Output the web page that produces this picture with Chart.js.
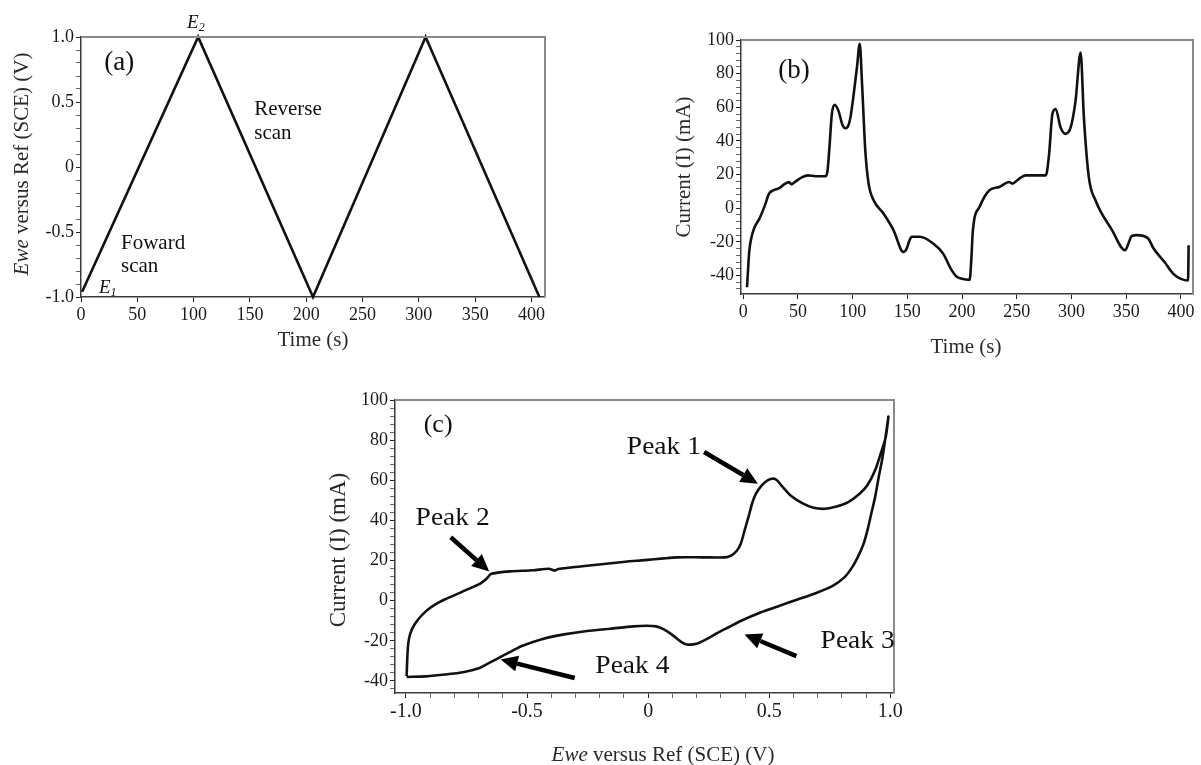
<!DOCTYPE html>
<html><head><meta charset="utf-8">
<script src="https://cdn.jsdelivr.net/npm/chart.js@4/dist/chart.umd.min.js"></script>
<style>
html,body{margin:0;padding:0;background:#fff;width:1201px;height:765px;overflow:hidden;}
canvas{position:absolute;}
</style></head><body>
<canvas id="ca" width="620" height="370" style="left:0;top:0"></canvas>
<canvas id="cb" width="581" height="370" style="left:620px;top:0"></canvas>
<canvas id="cc" width="660" height="395" style="left:300px;top:370px"></canvas>
<script>
// ---------- DATA ----------
// (a) potential vs time
const aTime    = [1, 104, 206, 306, 407];
const aVoltage = [-0.96, 1.0, -1.0, 1.0, -1.0];
const aXTicks  = [0, 50, 100, 150, 200, 250, 300, 350, 400];
const aXLabels = ['0','50','100','150','200','250','300','350','400'];
const aYTicks  = [-1, -0.5, 0, 0.5, 1];
const aYLabels = ['-1.0','-0.5','0','0.5','1.0'];

// (b) current vs time
const bTime = [3.5,4.5,5.5,7,10,15,20,23.5,27,33,38,42,44,47,54,59,66,75,77,79,81,83.5,87,91,93.5,96,98,101,104,106.5,108.6,111.6,114.6,119.2,128.2,137.3,146.4,149.4,152,154,161.5,173.6,182.7,190.3,194.8,200,206.9,208.4,209.9,216,225,234,243,246,252,258,276.5,279.5,282.5,285.5,290,294.6,299.2,303.7,308.3,311.3,315.8,321.9,337,349,352,355,360,370,375,385,393,400,406.5,407];
const bCurrent = [-47,-36,-26,-19,-12,-6,2,8.5,10.5,12,14.5,15.5,14.3,15.5,18.5,19.5,19,19,22,38,56,61.5,58,49,47.5,49,54,68,84,97.8,74,34,14.6,4.7,-3.2,-13,-26,-24,-19,-17,-17,-21,-27,-36.7,-40.6,-42,-42.6,-31,-13,0.8,10.7,12.6,15.6,14.6,17.5,19.5,19.5,32,56,59,48,44.2,48,64,92.5,54,18.5,4.7,-13,-25,-21,-16.5,-16,-18,-24,-32,-39,-42,-43,-22];
const bXTicks  = [0, 50, 100, 150, 200, 250, 300, 350, 400];
const bXLabels = ['0','50','100','150','200','250','300','350','400'];
const bYTicks  = [-40, -20, 0, 20, 40, 60, 80, 100];
const bYLabels = ['-40','-20','0','20','40','60','80','100'];

// (c) cyclic voltammogram (forward scan then reverse scan)
const cVoltage = [-0.997,-0.994,-0.990,-0.981,-0.965,-0.940,-0.910,-0.873,-0.838,-0.777,-0.727,-0.690,-0.665,-0.650,-0.620,-0.569,-0.474,-0.410,-0.385,-0.371,-0.252,-0.094,-0.014,0.065,0.120,0.223,0.319,0.342,0.366,0.382,0.398,0.414,0.429,0.445,0.469,0.493,0.517,0.532,0.556,0.588,0.636,0.683,0.731,0.778,0.826,0.873,0.905,0.937,0.960,0.981,0.992,
  0.984,0.968,0.952,0.937,0.921,0.905,0.889,0.865,0.842,0.810,0.762,0.699,0.620,0.540,0.461,0.382,0.334,0.287,0.239,0.200,0.160,0.136,0.097,0.065,0.033,-0.006,-0.062,-0.157,-0.252,-0.347,-0.442,-0.521,-0.585,-0.616,-0.664,-0.696,-0.759,-0.838,-0.918,-0.997];
const cCurrent = [-37.5,-28,-21,-16,-12,-8,-4.5,-1.5,0.7,3.9,6.6,8.8,11.2,13.2,14.0,14.6,15.2,15.9,15.0,15.8,17.4,19.4,20.2,21.1,21.6,21.6,21.6,22.4,24.9,28.2,34.9,41.6,48.3,53.3,57.5,60.0,60.8,60.0,56.6,52.4,48.6,46.3,45.8,46.9,49.1,53.3,57.5,65.0,73.3,81.6,91.7,
  85.0,71.6,61.6,51.6,43.3,34.9,28.2,21.6,16.6,11.6,7.4,4.1,0.7,-2.6,-6.0,-10.1,-13.1,-16.0,-19.3,-21.5,-21.8,-20.5,-16.8,-14.3,-12.8,-12.5,-12.8,-14.0,-15.1,-16.8,-19.3,-22.6,-26.5,-28.5,-31.5,-33.5,-35.5,-36.8,-37.7,-38.0];
const cXTicks  = [-1, -0.5, 0, 0.5, 1];
const cXLabels = ['-1.0','-0.5','0','0.5','1.0'];
const cYTicks  = [-40, -20, 0, 20, 40, 60, 80, 100];
const cYLabels = ['-40','-20','0','20','40','60','80','100'];

// annotations (data coordinates)
const aNotes = [
  {x:34, y:0.80, segs:[{t:'(a)'}], size:27},
  {x:102, y:1.11, segs:[{t:'E',i:1},{t:'2',i:1,sub:1}], size:19},
  {x:23.7, y:-0.93, segs:[{t:'E',i:1},{t:'1',i:1,sub:1}], size:19},
  {x:153.8, y:0.44, segs:[{t:'Reverse'}], size:21, align:'left'},
  {x:153.8, y:0.256, segs:[{t:'scan'}], size:21, align:'left'},
  {x:35.5, y:-0.585, segs:[{t:'Foward'}], size:21, align:'left'},
  {x:35.5, y:-0.767, segs:[{t:'scan'}], size:21, align:'left'}
];
const bNotes = [ {x:46.5, y:81.7, segs:[{t:'(b)'}], size:27} ];
const cNotes = [
  {x:-0.867, y:87.5, segs:[{t:'(c)'}], size:26},
  {x:0.065, y:76.6, segs:[{t:'Peak 1'}], size:25, hs:1.1},
  {x:-0.807, y:40.8, segs:[{t:'Peak 2'}], size:25, hs:1.1},
  {x:0.865, y:-20.1, segs:[{t:'Peak 3'}], size:25, hs:1.1},
  {x:-0.065, y:-32.7, segs:[{t:'Peak 4'}], size:25, hs:1.1}
];
const cArrows = [
  {x1:0.231, y1:74.1, x2:0.453, y2:58.3},
  {x1:-0.815, y1:31.6, x2:-0.656, y2:14.6},
  {x1:0.612, y1:-27.6, x2:0.398, y2:-16.8},
  {x1:-0.303, y1:-38.5, x2:-0.609, y2:-29.3}
];

// ---------- RENDERING ----------
const FONT = '"Liberation Serif", "Times New Roman", serif';

function range(a, b, step, dec) {
  const out = []; const n = Math.round((b - a) / step);
  for (let k = 0; k <= n; k++) out.push(+(a + k * step).toFixed(dec));
  return out;
}
function isIn(v, arr) { return arr.some(m => Math.abs(m - v) < 1e-9); }

function axis(min, max, allTicks, major, labels, size, fitFn) {
  return {
    type: 'linear', min, max,
    afterBuildTicks: s => { s.ticks = allTicks.map(v => ({value: v})); },
    afterFit: fitFn,
    ticks: {autoSkip: false, maxRotation: 0, minRotation: 0, padding: 2, color: '#1a1a1a',
      font: {family: FONT, size},
      callback: v => { const i = major.findIndex(m => Math.abs(m - v) < 1e-9); return i >= 0 ? labels[i] : ''; }},
    grid: {drawOnChartArea: false, drawTicks: true, tickLength: 5, tickWidth: 1,
      tickColor: c => (c.tick && isIn(c.tick.value, major)) ? '#222' : '#666'},
    border: {display: true, color: '#3a3a3a', width: 1.5}
  };
}

function drawRich(ctx, segs, x, y, size, align, color, hs) {
  hs = hs || 1;
  ctx.save();
  ctx.fillStyle = color || '#000';
  ctx.textBaseline = 'middle';
  ctx.textAlign = 'left';
  const fontOf = s => (s.i ? 'italic ' : '') + (s.sub ? Math.round(size * 0.62) : size) + 'px ' + FONT;
  let w = 0;
  segs.forEach(s => { ctx.font = fontOf(s); w += ctx.measureText(s.t).width; });
  ctx.translate(x, y);
  ctx.scale(hs, 1);
  let cx = align === 'left' ? 0 : -w / 2;
  segs.forEach(s => {
    ctx.font = fontOf(s);
    ctx.fillText(s.t, cx, (s.sub ? size * 0.28 : 0));
    cx += ctx.measureText(s.t).width;
  });
  ctx.restore();
}

const framePlugin = {
  id: 'frame',
  afterDraw(chart, args, o) {
    const {ctx, chartArea: a, scales} = chart;
    ctx.save();
    ctx.strokeStyle = '#8a8a8a'; ctx.lineWidth = 2;
    ctx.beginPath(); ctx.moveTo(a.left, a.top); ctx.lineTo(a.right, a.top); ctx.lineTo(a.right, a.bottom); ctx.stroke();
    (o.notes || []).forEach(t => {
      drawRich(ctx, t.segs, scales.x.getPixelForValue(t.x), scales.y.getPixelForValue(t.y), t.size, t.align, '#111', t.hs);
    });
    (o.arrows || []).forEach(r => {
      const x1 = scales.x.getPixelForValue(r.x1), y1 = scales.y.getPixelForValue(r.y1);
      const x2 = scales.x.getPixelForValue(r.x2), y2 = scales.y.getPixelForValue(r.y2);
      const ang = Math.atan2(y2 - y1, x2 - x1), L = 17, W = 8;
      const bx = x2 - L * Math.cos(ang), by = y2 - L * Math.sin(ang);
      ctx.strokeStyle = '#000'; ctx.fillStyle = '#000'; ctx.lineWidth = 4.5; ctx.lineCap = 'butt';
      ctx.beginPath(); ctx.moveTo(x1, y1); ctx.lineTo(bx, by); ctx.stroke();
      ctx.beginPath(); ctx.moveTo(x2, y2);
      ctx.lineTo(bx - W * Math.sin(ang), by + W * Math.cos(ang));
      ctx.lineTo(bx + W * Math.sin(ang), by - W * Math.cos(ang));
      ctx.closePath(); ctx.fill();
    });
    (o.titles || []).forEach(t => {
      ctx.save();
      ctx.translate(t.x, t.y);
      if (t.rot) ctx.rotate(-Math.PI / 2);
      drawRich(ctx, t.segs, 0, 0, t.size, 'center', t.color || '#2a2a2a');
      ctx.restore();
    });
    ctx.restore();
  }
};

function makeChart(id, xs, ys, xAxis, yAxis, pad, extra, dsExtra) {
  const pts = xs.map((v, i) => ({x: v, y: ys[i]}));
  return new Chart(document.getElementById(id), {
    type: 'line',
    data: {datasets: [Object.assign({data: pts, borderColor: '#111', borderWidth: 2.6, pointRadius: 0,
      fill: false, clip: false}, dsExtra)]},
    options: {
      responsive: false, animation: false, devicePixelRatio: 1,
      layout: {padding: pad},
      plugins: {legend: {display: false}, tooltip: {enabled: false}, frame: extra},
      scales: {x: xAxis, y: yAxis}
    },
    plugins: [framePlugin]
  });
}

// (a)
makeChart('ca', aTime, aVoltage,
  axis(0, 412, aXTicks, aXTicks, aXLabels, 18, s => { s.height = 73; }),
  axis(-1, 1, range(-1, 1, 0.1, 1), aYTicks, aYLabels, 18, s => { s.width = 81; }),
  {left: 0, top: 37, right: 75, bottom: 0},
  {notes: aNotes, titles: [
    {x: 22, y: 164, rot: 1, size: 21, segs: [{t: 'Ewe', i: 1}, {t: ' versus Ref (SCE) (V)'}]},
    {x: 313, y: 340, size: 21, segs: [{t: 'Time (s)'}]}
  ]},
  {tension: 0});

// (b)
makeChart('cb', bTime, bCurrent,
  axis(-2, 411, bXTicks, bXTicks, bXLabels, 18, s => { s.height = 76; }),
  axis(-51, 100, range(-48, 100, 4, 0), bYTicks, bYLabels, 18, s => { s.width = 121; }),
  {left: 0, top: 40, right: 8, bottom: 0},
  {notes: bNotes, titles: [
    {x: 64, y: 167, rot: 1, size: 21, segs: [{t: 'Current (I) (mA)'}]},
    {x: 346, y: 347, size: 21, segs: [{t: 'Time (s)'}]}
  ]},
  {cubicInterpolationMode: 'monotone'});

// (c)
makeChart('cc', cVoltage, cCurrent,
  axis(-1.045, 1.015, range(-1, 1, 0.1, 1), cXTicks, cXLabels, 20, s => { s.height = 72; }),
  axis(-46, 100, range(-44, 100, 4, 0), cYTicks, cYLabels, 18, s => { s.width = 95; }),
  {left: 0, top: 30, right: 66, bottom: 0},
  {notes: cNotes, arrows: cArrows, titles: [
    {x: 39, y: 180, rot: 1, size: 23, segs: [{t: 'Current (I) (mA)'}]},
    {x: 363, y: 385, size: 21, segs: [{t: 'Ewe', i: 1}, {t: ' versus Ref (SCE) (V)'}]}
  ]},
  {tension: 0.25});
</script>
</body></html>
